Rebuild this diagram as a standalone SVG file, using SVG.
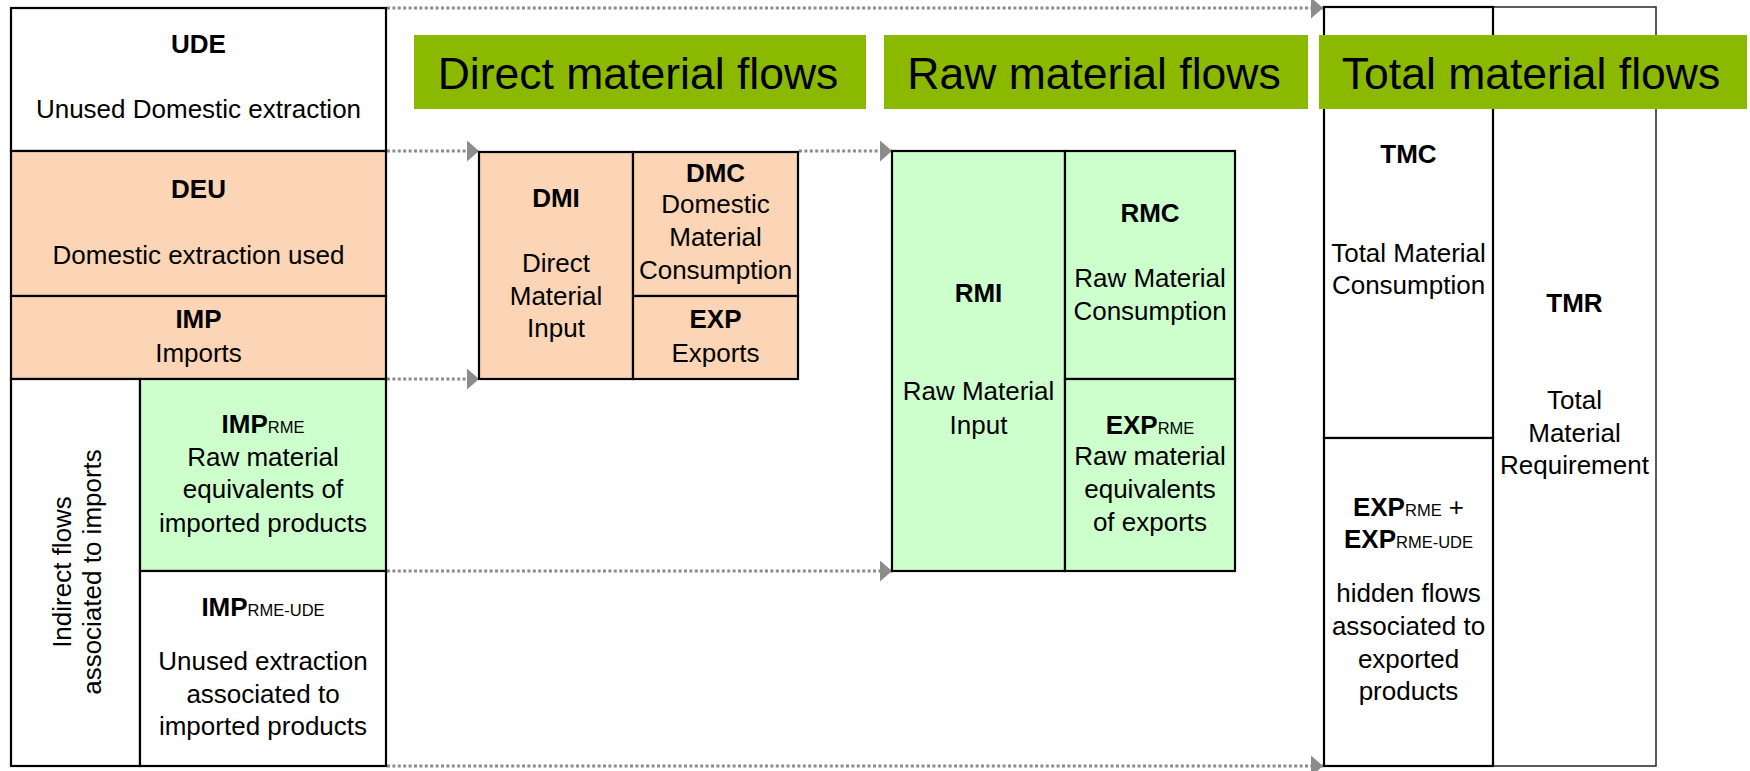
<svg xmlns="http://www.w3.org/2000/svg" width="1750" height="771" viewBox="0 0 1750 771">
<defs>
<style>
.box{stroke:#000;stroke-width:2.2}
.w{fill:#fff}
.o{fill:#fbd5b5}
.g{fill:#ccffcc}
.t{font-family:"Liberation Sans",Arial,sans-serif;font-size:26px;fill:#000;text-anchor:middle}
.b{font-weight:bold}
.s{font-size:16.5px;font-weight:normal}
.hdr{fill:#8bb900}
.ht{font-family:"Liberation Sans",Arial,sans-serif;font-size:44.5px;fill:#000;text-anchor:middle}
.c{fill:none;stroke:#8c8c8c;stroke-width:3;stroke-dasharray:3 2.4}
</style>
<marker id="ar" markerUnits="userSpaceOnUse" markerWidth="13" markerHeight="22" refX="12" refY="10.5" orient="auto">
<path d="M0,0 L12,10.5 L0,21 Z" fill="#8c8c8c"/>
</marker>
</defs>
<rect width="1750" height="771" fill="#fff"/>

<g id="connectors">
<line class="c" x1="387" y1="8" x2="1323" y2="8" marker-end="url(#ar)"/>
<line class="c" x1="387" y1="151" x2="479" y2="151" marker-end="url(#ar)"/>
<line class="c" x1="387" y1="379" x2="479" y2="379" marker-end="url(#ar)"/>
<line class="c" x1="799" y1="151" x2="892" y2="151" marker-end="url(#ar)"/>
<line class="c" x1="387" y1="571" x2="892" y2="571" marker-end="url(#ar)"/>
<line class="c" x1="387" y1="766" x2="1323" y2="766" marker-end="url(#ar)"/>
</g>

<g id="UDE">
<rect class="box w" x="11" y="8" width="375" height="143"/>
<text class="t b" x="198.5" y="53">UDE</text>
<text class="t" x="198.5" y="118">Unused Domestic extraction</text>
</g>
<g id="DEU">
<rect class="box o" x="11" y="151" width="375" height="145"/>
<text class="t b" x="198.5" y="198">DEU</text>
<text class="t" x="198.5" y="264">Domestic extraction used</text>
</g>
<g id="IMP">
<rect class="box o" x="11" y="296" width="375" height="83"/>
<text class="t b" x="198.5" y="328">IMP</text>
<text class="t" x="198.5" y="362">Imports</text>
</g>
<g id="indirect">
<rect class="box w" x="11" y="379" width="129" height="387"/>
<text class="t" transform="translate(71,572) rotate(-90)">Indirect flows</text>
<text class="t" transform="translate(101,572) rotate(-90)">associated to imports</text>
</g>
<g id="IMP_RME">
<rect class="box g" x="140" y="379" width="246" height="192"/>
<text class="t" x="263" y="433"><tspan class="b">IMP</tspan><tspan class="s">RME</tspan></text>
<text class="t" x="263" y="466">Raw material</text>
<text class="t" x="263" y="498">equivalents of</text>
<text class="t" x="263" y="532">imported products</text>
</g>
<g id="IMP_RME_UDE">
<rect class="box w" x="140" y="571" width="246" height="195"/>
<text class="t" x="263" y="616"><tspan class="b">IMP</tspan><tspan class="s">RME-UDE</tspan></text>
<text class="t" x="263" y="670">Unused extraction</text>
<text class="t" x="263" y="703">associated to</text>
<text class="t" x="263" y="735">imported products</text>
</g>

<g id="DMI">
<rect class="box o" x="479" y="152" width="154" height="227"/>
<text class="t b" x="556" y="207">DMI</text>
<text class="t" x="556" y="272">Direct</text>
<text class="t" x="556" y="305">Material</text>
<text class="t" x="556" y="337">Input</text>
</g>
<g id="DMC">
<rect class="box o" x="633" y="152" width="165" height="144"/>
<text class="t b" x="715.5" y="182">DMC</text>
<text class="t" x="715.5" y="213">Domestic</text>
<text class="t" x="715.5" y="246">Material</text>
<text class="t" x="715.5" y="279">Consumption</text>
</g>
<g id="EXP">
<rect class="box o" x="633" y="296" width="165" height="83"/>
<text class="t b" x="715.5" y="328">EXP</text>
<text class="t" x="715.5" y="362">Exports</text>
</g>

<g id="RMI">
<rect class="box g" x="892" y="151" width="173" height="420"/>
<text class="t b" x="978.5" y="302">RMI</text>
<text class="t" x="978.5" y="400">Raw Material</text>
<text class="t" x="978.5" y="434">Input</text>
</g>
<g id="RMC">
<rect class="box g" x="1065" y="151" width="170" height="228"/>
<text class="t b" x="1150" y="222">RMC</text>
<text class="t" x="1150" y="287">Raw Material</text>
<text class="t" x="1150" y="320">Consumption</text>
</g>
<g id="EXP_RME">
<rect class="box g" x="1065" y="379" width="170" height="192"/>
<text class="t" x="1150" y="434"><tspan class="b">EXP</tspan><tspan class="s">RME</tspan></text>
<text class="t" x="1150" y="465">Raw material</text>
<text class="t" x="1150" y="498">equivalents</text>
<text class="t" x="1150" y="531">of exports</text>
</g>

<g id="TMR">
<rect x="1493" y="7" width="163" height="759" fill="#fff" stroke="#333" stroke-width="1.6"/>
<text class="t b" x="1574.5" y="312">TMR</text>
<text class="t" x="1574.5" y="409">Total</text>
<text class="t" x="1574.5" y="442">Material</text>
<text class="t" x="1574.5" y="474">Requirement</text>
</g>
<g id="TMC">
<rect class="box w" x="1324" y="7" width="169" height="431"/>
<text class="t b" x="1408.5" y="163">TMC</text>
<text class="t" x="1408.5" y="262">Total Material</text>
<text class="t" x="1408.5" y="294">Consumption</text>
</g>
<g id="hidden">
<rect class="box w" x="1324" y="438" width="169" height="328"/>
<text class="t" x="1408.5" y="516"><tspan class="b">EXP</tspan><tspan class="s">RME</tspan> +</text>
<text class="t" x="1408.5" y="548"><tspan class="b">EXP</tspan><tspan class="s">RME-UDE</tspan></text>
<text class="t" x="1408.5" y="602">hidden flows</text>
<text class="t" x="1408.5" y="635">associated to</text>
<text class="t" x="1408.5" y="668">exported</text>
<text class="t" x="1408.5" y="700">products</text>
</g>

<g id="header_direct">
<rect class="hdr" x="414" y="35" width="452" height="74"/>
<text class="ht" x="638" y="89">Direct material flows</text>
</g>
<g id="header_raw">
<rect class="hdr" x="884" y="35" width="424" height="74"/>
<text class="ht" x="1094" y="89">Raw material flows</text>
</g>
<g id="header_total">
<rect class="hdr" x="1319" y="35" width="428" height="74"/>
<text class="ht" x="1531" y="89">Total material flows</text>
</g>
</svg>
